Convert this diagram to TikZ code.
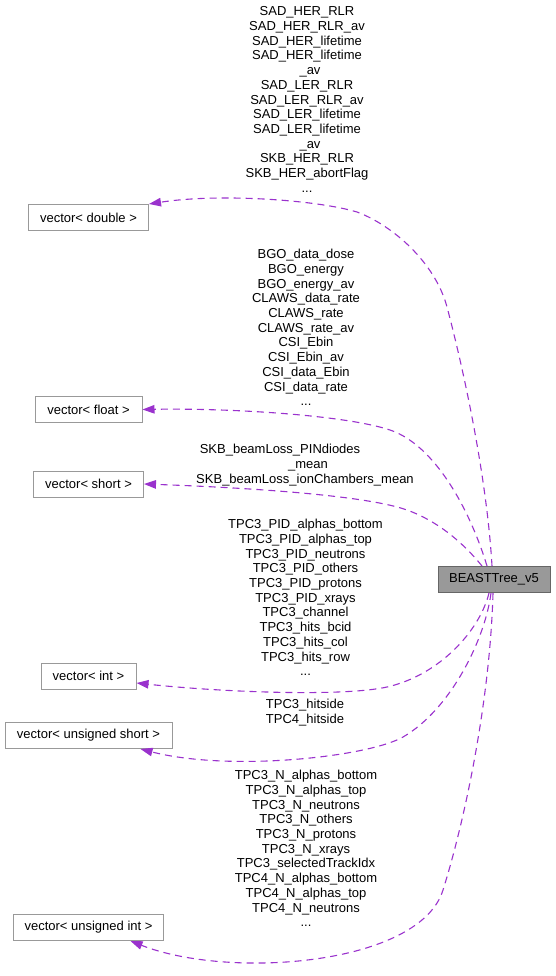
\documentclass[tikz,border=0pt]{standalone}
\usepackage{fontspec}
\setmainfont{Liberation Sans}
\usetikzlibrary{arrows.meta,calc}
\definecolor{edgecol}{HTML}{9A32CD}
\definecolor{boxline}{HTML}{999999}
\definecolor{mainfill}{HTML}{999999}
\definecolor{mainline}{HTML}{666666}
\tikzset{
  cls/.style={draw=boxline, line width=1pt, fill=white, minimum height=26pt, inner sep=0pt, font=\fontsize{13}{15}\selectfont},
  main/.style={cls, draw=mainline, fill=mainfill},
  lbl/.style={align=center, inner sep=0pt, font=\fontsize{13}{14.7}\selectfont},
  member/.style={edgecol, line width=1.1pt, dash pattern=on 7pt off 5pt, -{Triangle[length=12pt,width=8.5pt]}},
}
\begin{document}
\begin{tikzpicture}[x=1pt, y=-1pt]
\useasboundingbox (0,0) rectangle (556,976);
\node[cls, minimum width=120pt]  at (88.5, 217.5) (dbl) {vector< double >};
\node[cls, minimum width=107pt]  at (88.5, 409.5) (flt) {vector< float >};
\node[cls, minimum width=110pt]  at (88.5, 484) (shrt) {vector< short >};
\node[main, minimum width=112pt] at (494, 579.5) (beast) {BEASTTree\_v5};
\node[cls, minimum width=95pt]   at (88.5, 676) (int) {vector< int >};
\node[cls, minimum width=167pt]  at (88.5, 735.5) (ushrt) {vector< unsigned short >};
\node[cls, minimum width=150pt]  at (88.5, 927.5) (uint) {vector< unsigned int >};
\draw[member] ($(beast.north)+(-2,0)$) .. controls (487,480) and (465,375) .. (447,307)
  .. controls (435,262) and (392,225) .. (357,212)
  .. controls (317,200) and (220,193) .. (dbl.north east);
\draw[member] ($(beast.north)+(-7,0)$) .. controls (470,510) and (435,445) .. (390,430)
  .. controls (345,415) and (230,408) .. (flt.east);
\draw[member] ($(beast.north)+(-12,0)$) .. controls (465,545) and (440,522) .. (407,510)
  .. controls (362,494) and (230,487) .. (shrt.east);
\draw[member] ($(beast.south)+(-5,0)$) .. controls (480,630) and (440,675) .. (387,687)
  .. controls (342,697) and (220,692) .. ($(int.east)+(0,7)$);
\draw[member] ($(beast.south)+(-3,0)$) .. controls (485,640) and (450,710) .. (403,737)
  .. controls (368,757) and (230,772) .. ($(ushrt.south)+(52,0)$);
\draw[member] ($(beast.south)+(-1,0)$) .. controls (490,700) and (465,820) .. (443,890)
  .. controls (420,965) and (230,980) .. ($(uint.south)+(42,0)$);
\node[lbl] at (307, 99.5) (ldbl) {SAD\_HER\_RLR\\SAD\_HER\_RLR\_av\\SAD\_HER\_lifetime\\SAD\_HER\_lifetime\hspace*{12pt}\\\hspace*{6pt}\_av\\SAD\_LER\_RLR\\SAD\_LER\_RLR\_av\\SAD\_LER\_lifetime\\SAD\_LER\_lifetime\hspace*{12pt}\\\hspace*{6pt}\_av\\SKB\_HER\_RLR\\SKB\_HER\_abortFlag\\...};
\node[lbl] at (306, 327.5) (lflt) {BGO\_data\_dose\\BGO\_energy\\BGO\_energy\_av\\CLAWS\_data\_rate\\CLAWS\_rate\\CLAWS\_rate\_av\\CSI\_Ebin\\CSI\_Ebin\_av\\CSI\_data\_Ebin\\CSI\_data\_rate\\...};
\node[lbl] at (305, 465) (lshrt) {SKB\_beamLoss\_PINdiodes\hspace*{50pt}\\\hspace*{6pt}\_mean\\SKB\_beamLoss\_ionChambers\_mean};
\node[lbl] at (305.5, 597.5) (lint) {TPC3\_PID\_alphas\_bottom\\TPC3\_PID\_alphas\_top\\TPC3\_PID\_neutrons\\TPC3\_PID\_others\\TPC3\_PID\_protons\\TPC3\_PID\_xrays\\TPC3\_channel\\TPC3\_hits\_bcid\\TPC3\_hits\_col\\TPC3\_hits\_row\\...};
\node[lbl] at (305, 712.5) (lushrt) {TPC3\_hitside\\TPC4\_hitside};
\node[lbl] at (306, 848.5) (luint) {TPC3\_N\_alphas\_bottom\\TPC3\_N\_alphas\_top\\TPC3\_N\_neutrons\\TPC3\_N\_others\\TPC3\_N\_protons\\TPC3\_N\_xrays\\TPC3\_selectedTrackIdx\\TPC4\_N\_alphas\_bottom\\TPC4\_N\_alphas\_top\\TPC4\_N\_neutrons\\...};
\end{tikzpicture}
\end{document}
